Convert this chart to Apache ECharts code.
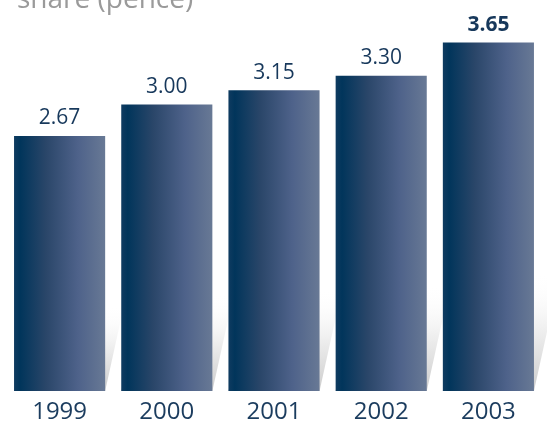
<!DOCTYPE html>
<html>
<head>
<meta charset="utf-8">
<script src="https://cdn.jsdelivr.net/npm/echarts@6/dist/echarts.min.js"></script>
<style>
html,body{margin:0;padding:0;background:#fff;}
#chart{width:547px;height:427px;}
</style>
</head>
<body>
<div id="chart"></div>
<script>
var categories = ['1999', '2000', '2001', '2002', '2003'];
var values = [2.67, 3.00, 3.15, 3.30, 3.65];
var valueLabels = ['2.67', '3.00', '3.15', '3.30', '3.65'];
var titleText = 'share (pence)';

var FONT = '"Open Sans", "Noto Sans", sans-serif';
var BAR_RATIO = 0.85;

var barGradient = new echarts.graphic.LinearGradient(0, 0, 1, 0, [
  {offset: 0, color: '#0f3b60'},
  {offset: 0.07, color: '#01355b'},
  {offset: 0.35, color: '#2a4669'},
  {offset: 0.7, color: '#4e628a'},
  {offset: 1, color: '#687995'}
]);

var chart = echarts.init(document.getElementById('chart'));
chart.setOption({
  backgroundColor: '#ffffff',
  animation: false,
  title: {
    text: titleText,
    left: 12,
    top: -19,
    textStyle: {fontFamily: FONT, fontSize: 28, fontWeight: 'normal', color: '#9a9a9a'}
  },
  grid: {left: 6, right: 5, top: 9, bottom: 36, containLabel: false},
  xAxis: {
    type: 'category',
    data: categories,
    axisLine: {show: false},
    axisTick: {show: false},
    axisLabel: {fontFamily: FONT, fontSize: 24, color: '#1b3c5e', margin: 9}
  },
  yAxis: {
    type: 'value',
    min: 0,
    max: 4,
    show: false,
    splitLine: {show: false}
  },
  series: [
    {
      type: 'custom',
      z: 1,
      silent: true,
      data: values.map(function (v, i) { return [i, v]; }),
      renderItem: function (params, api) {
        var idx = api.value(0);
        var base = api.coord([idx, 0]);
        var top = api.coord([idx, api.value(1)]);
        var band = api.size([1, 0])[0];
        var bw = band * BAR_RATIO;
        var lx = base[0] - bw / 2;
        var rx = base[0] + bw / 2;
        var h = base[1] - top[1];
        var k = 0.22;
        return {
          type: 'polygon',
          shape: {points: [[lx, base[1]], [rx, base[1]], [rx + k * h, top[1]], [lx + k * h, top[1]]]},
          style: {
            fill: new echarts.graphic.LinearGradient(0, 0, 0, 1, [
              {offset: 0, color: 'rgba(255,255,255,0)'},
              {offset: 0.66, color: 'rgba(255,255,255,0)'},
              {offset: 0.84, color: '#ececec'},
              {offset: 1, color: '#cdcdcd'}
            ])
          }
        };
      }
    },
    {
      type: 'bar',
      z: 2,
      barWidth: (BAR_RATIO * 100) + '%',
      data: values.map(function (v, i) {
        var item = {value: v};
        if (i === values.length - 1) {
          item.label = {fontWeight: 'bold'};
        }
        return item;
      }),
      itemStyle: {color: barGradient},
      label: {
        show: true,
        position: 'top',
        distance: 7,
        fontFamily: FONT,
        fontSize: 21,
        color: '#17385b',
        formatter: function (p) { return valueLabels[p.dataIndex]; }
      }
    }
  ]
});
</script>
</body>
</html>
